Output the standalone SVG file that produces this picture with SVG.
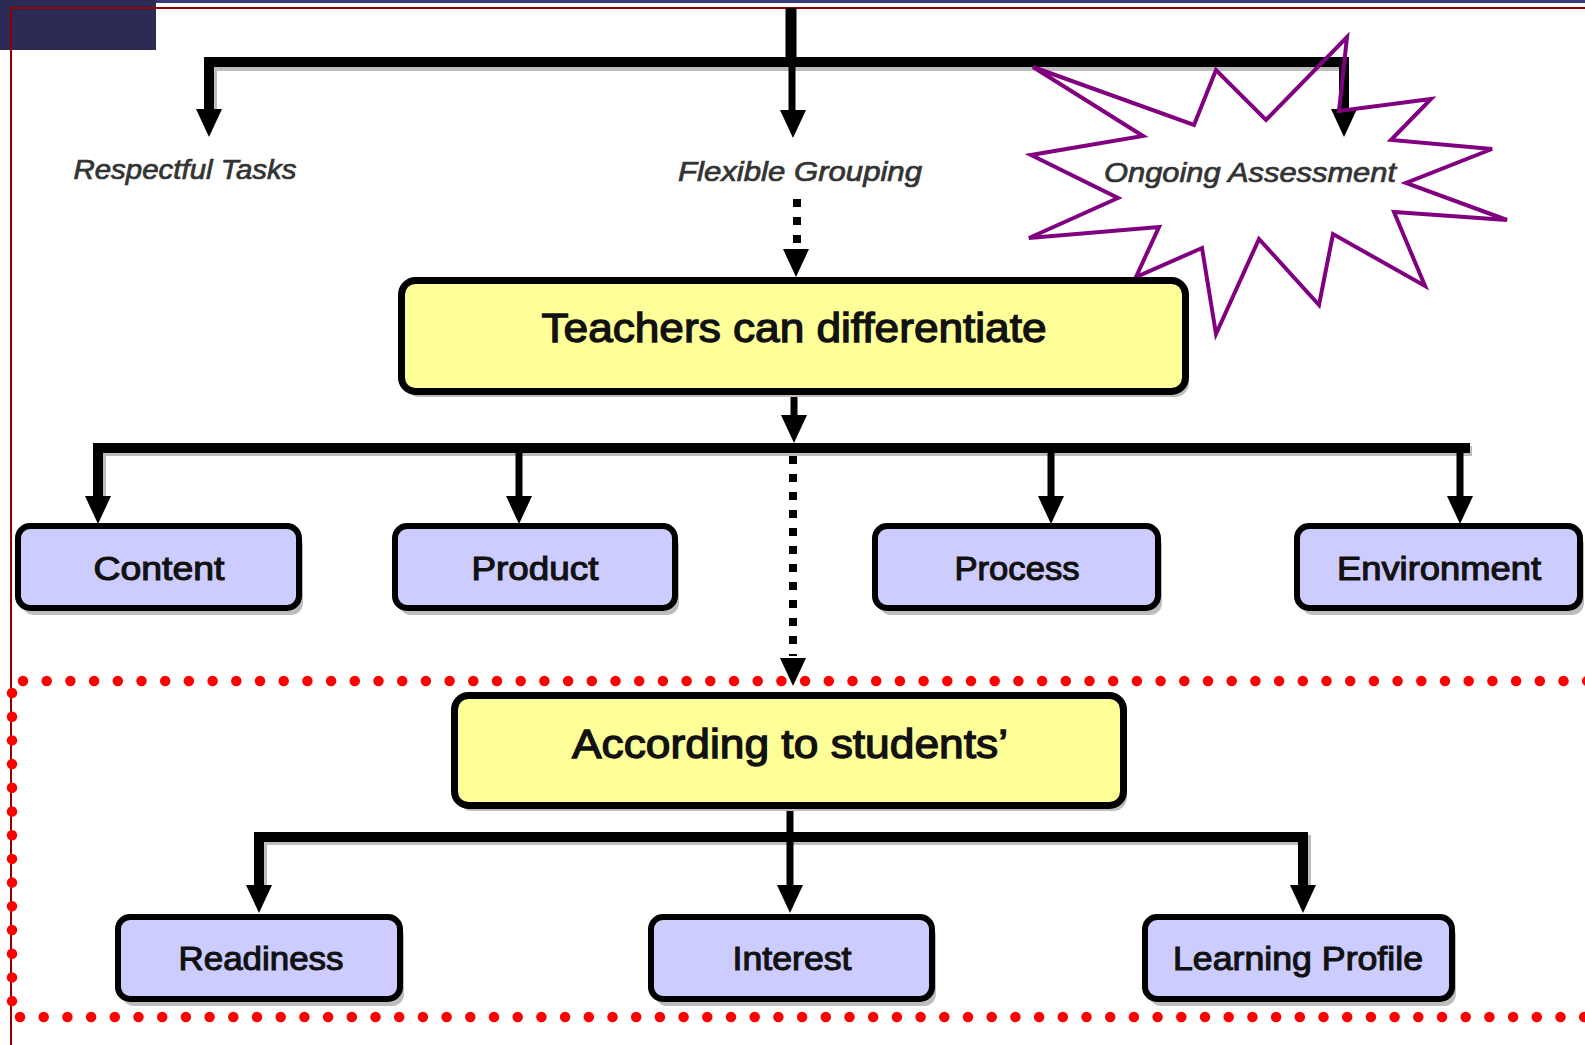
<svg xmlns="http://www.w3.org/2000/svg" xmlns:xlink="http://www.w3.org/1999/xlink" width="1585" height="1045" viewBox="0 0 1585 1045">
<style>
.bg{fill:#ffffff}
.yel{fill:#FFFF99;stroke:#000;stroke-width:7}
.pur{fill:#CCCCFF;stroke:#000;stroke-width:6}
.shd{fill:#BDBDBD}
.t{font-family:"Liberation Sans",Arial,sans-serif;fill:#111;stroke:#111;stroke-width:1;text-anchor:middle}
.tm{font-size:40px;stroke-width:1.3}
.tb{font-size:33px;stroke-width:1.1}
.tl{font-size:27px;font-style:italic;fill:#333;stroke:#333;stroke-width:0.7}
.w{fill:none;stroke:#000;stroke-linejoin:miter}
.ws{fill:none;stroke:#BDBDBD;stroke-linejoin:miter}
.bar{stroke-width:10}
.stem{stroke-width:7}
.dash{fill:none;stroke:#000;stroke-width:8;stroke-dasharray:8 10}
.red{fill:none;stroke:#FF0000;stroke-width:10.5;stroke-linecap:round;stroke-dasharray:0 23.7}
</style>
<defs>
<path id="ah" d="M-13,-28 L13,-28 L0,0 Z" fill="#000"/>
</defs>
<rect class="bg" x="0" y="0" width="1585" height="1045"/>
<g id="frame">
<rect x="0" y="0" width="1585" height="3" fill="#3B3B7A"/>
<rect x="0" y="0" width="156" height="50" fill="#2B2B55"/>
<path d="M11,1045 V8 H1585" fill="none" stroke="#8B0000" stroke-width="2"/>
</g>
<g id="red-dotted-region">
<path class="red" d="M23,681 H1590"/>
<path class="red" d="M20,1017 H1590"/>
<path class="red" d="M12,693 V1010"/>
</g>
<g id="connectors">
<path class="ws bar" d="M212,112 V66 H1347"/>
<path class="ws bar" d="M101,500 V451 H1472"/>
<path class="ws bar" d="M262,888 V840 H1306 V888"/>
<path class="w" stroke-width="11" d="M791,8 V63"/>
<path class="w bar" d="M209,112 V62 H1344 V112"/>
<path class="w stem" d="M792,62 V112"/>
<use xlink:href="#ah" x="209" y="137"/>
<use xlink:href="#ah" x="793" y="138"/>
<use xlink:href="#ah" x="1344" y="137"/>
<path class="dash" d="M797,199 V247"/>
<use xlink:href="#ah" x="796" y="277"/>
<path class="w stem" d="M794,394 V420"/>
<use xlink:href="#ah" x="794" y="443"/>
<path class="w bar" d="M98,500 V448 H1470"/>
<path class="w stem" d="M519,448 V500 M1051,448 V500 M1460,448 V500"/>
<use xlink:href="#ah" x="98" y="524"/>
<use xlink:href="#ah" x="519" y="524"/>
<use xlink:href="#ah" x="1051" y="524"/>
<use xlink:href="#ah" x="1460" y="524"/>
<path class="dash" d="M793,456 V656"/>
<use xlink:href="#ah" x="793" y="686"/>
<path class="w stem" d="M790,809 V888"/>
<path class="w bar" d="M259,888 V837 H1303 V888"/>
<use xlink:href="#ah" x="259" y="913"/>
<use xlink:href="#ah" x="790" y="913"/>
<use xlink:href="#ah" x="1303" y="913"/>
</g>
<g id="label-respectful-tasks">
<text class="t tl" x="185" y="179" textLength="223" lengthAdjust="spacingAndGlyphs">Respectful Tasks</text>
</g>
<g id="label-flexible-grouping">
<text class="t tl" x="800" y="181" textLength="244" lengthAdjust="spacingAndGlyphs">Flexible Grouping</text>
</g>
<g id="ongoing-assessment">
<polygon points="1347,37 1339,111 1431,99 1391,140 1492,149 1406,183 1507,220 1394,212 1425,286 1333,234 1319,305 1259,239 1216,334 1202,248 1136,277 1159,227 1029,238 1118,198 1031,155 1143,136 1033,67 1194,125 1216,70 1266,120" fill="none" stroke="#800080" stroke-width="4" stroke-linejoin="miter"/>
<text class="t tl" x="1250" y="182" textLength="292" lengthAdjust="spacingAndGlyphs">Ongoing Assessment</text>
</g>
<g id="teachers-can-differentiate">
<rect class="shd" x="405" y="286" width="784" height="111" rx="14"/>
<rect class="yel" x="401.5" y="280.5" width="784" height="111" rx="14"/>
<text class="t tm" x="794" y="342" textLength="505" lengthAdjust="spacingAndGlyphs">Teachers can differentiate</text>
</g>
<g id="content">
<rect class="shd" x="22" y="533" width="281" height="82" rx="12"/>
<rect class="pur" x="18" y="526" width="281" height="82" rx="12"/>
<text class="t tb" x="159" y="580" textLength="131" lengthAdjust="spacingAndGlyphs">Content</text>
</g>
<g id="product">
<rect class="shd" x="399" y="533" width="280" height="82" rx="12"/>
<rect class="pur" x="395" y="526" width="280" height="82" rx="12"/>
<text class="t tb" x="535" y="580" textLength="127" lengthAdjust="spacingAndGlyphs">Product</text>
</g>
<g id="process">
<rect class="shd" x="879" y="533" width="283" height="82" rx="12"/>
<rect class="pur" x="875" y="526" width="283" height="82" rx="12"/>
<text class="t tb" x="1017" y="580" textLength="125" lengthAdjust="spacingAndGlyphs">Process</text>
</g>
<g id="environment">
<rect class="shd" x="1301" y="533" width="283" height="82" rx="12"/>
<rect class="pur" x="1297" y="526" width="283" height="82" rx="12"/>
<text class="t tb" x="1439" y="580" textLength="204" lengthAdjust="spacingAndGlyphs">Environment</text>
</g>
<g id="according-to-students">
<rect class="shd" x="458" y="701" width="669" height="110" rx="14"/>
<rect class="yel" x="454.5" y="695.5" width="669" height="110" rx="14"/>
<text class="t tm" x="790" y="758" textLength="436" lengthAdjust="spacingAndGlyphs">According to students’</text>
</g>
<g id="readiness">
<rect class="shd" x="122" y="924" width="282" height="82" rx="12"/>
<rect class="pur" x="118" y="917" width="282" height="82" rx="12"/>
<text class="t tb" x="261" y="970" textLength="165" lengthAdjust="spacingAndGlyphs">Readiness</text>
</g>
<g id="interest">
<rect class="shd" x="655" y="924" width="281" height="82" rx="12"/>
<rect class="pur" x="651" y="917" width="281" height="82" rx="12"/>
<text class="t tb" x="792" y="970" textLength="119" lengthAdjust="spacingAndGlyphs">Interest</text>
</g>
<g id="learning-profile">
<rect class="shd" x="1149" y="924" width="307" height="82" rx="12"/>
<rect class="pur" x="1145" y="917" width="307" height="82" rx="12"/>
<text class="t tb" x="1298" y="970" textLength="250" lengthAdjust="spacingAndGlyphs">Learning Profile</text>
</g>
</svg>
